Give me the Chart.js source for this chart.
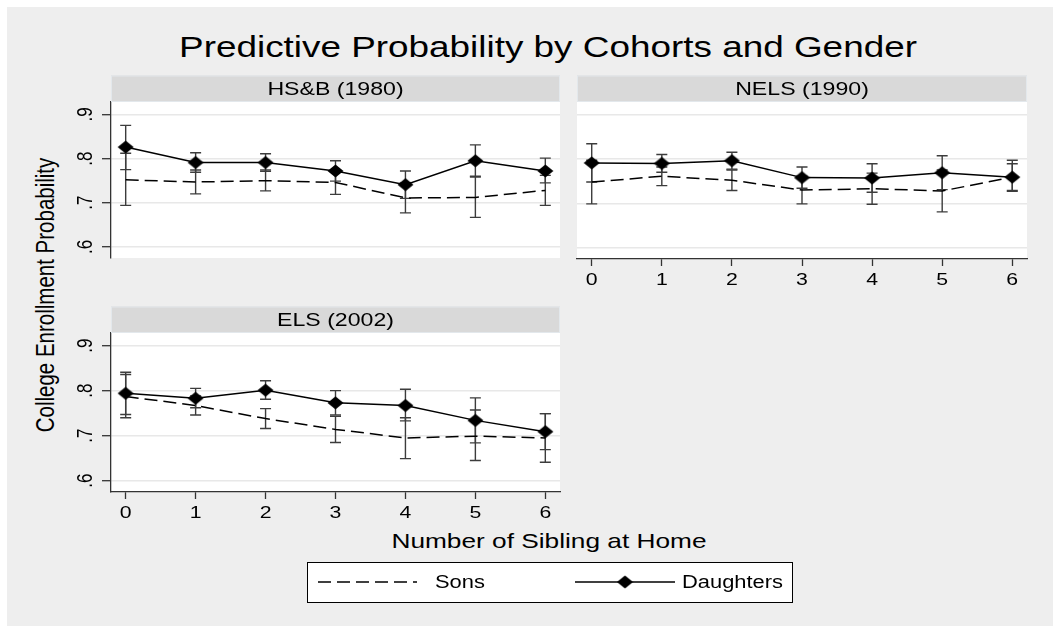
<!DOCTYPE html>
<html>
<head>
<meta charset="utf-8">
<title>Predictive Probability by Cohorts and Gender</title>
<script src="https://cdn.jsdelivr.net/npm/chart.js@4.4.0/dist/chart.umd.min.js"></script>
<style>
  html, body { margin: 0; padding: 0; background: #fff; }
  #page { position: relative; width: 1053px; height: 626px; overflow: hidden; }
  #bg { position: absolute; left: 7px; top: 7px; right: 0; bottom: 0; background: #eeeeee; }
  canvas { position: absolute; left: 0; top: 0; }
  /* text in this figure is drawn a little wide (x stretched 1.25) */
  .txt { position: absolute; font-family: "Liberation Sans", Arial, sans-serif; color: #000; white-space: nowrap;
         transform: translate(-50%, -50%) scaleX(1.25); }
  #title { left: 548px; top: 47px; font-size: 29.5px; }
  #ytitle { left: 45px; top: 295px; font-size: 20.5px; transform: translate(-50%, -50%) scaleX(1.25) rotate(-90deg); }
  #xtitle { left: 549px; top: 541px; font-size: 21px; }
</style>
</head>
<body>
<div id="page">
  <div id="bg"></div>
  <div class="txt" id="title">Predictive Probability by Cohorts and Gender</div>
  <div class="txt" id="ytitle">College Enrollment Probability</div>
  <div class="txt" id="xtitle">Number of Sibling at Home</div>
  <canvas id="hsb" width="1053" height="626"></canvas>
  <canvas id="nels" width="1053" height="626"></canvas>
  <canvas id="els" width="1053" height="626"></canvas>
</div>
<script>
const FONT = '"Liberation Sans", Arial, sans-serif';
const STRETCH = 1.25;
Chart.defaults.font.family = FONT;
Chart.defaults.color = '#000';

const siblings = [0, 1, 2, 3, 4, 5, 6];
const yTicks = [0.6, 0.7, 0.8, 0.9];
const yTickLabels = ['.6', '.7', '.8', '.9'];
const seriesNames = ['Sons', 'Daughters'];

// HS&B (1980)
const hsbSons        = [0.752, 0.747, 0.750, 0.746, 0.711, 0.712, 0.728];
const hsbSonsLo      = [0.694, 0.720, 0.727, 0.719, 0.677, 0.667, 0.694];
const hsbSonsHi      = [0.812, 0.774, 0.774, 0.773, 0.745, 0.758, 0.762];
const hsbDaughters   = [0.826, 0.791, 0.791, 0.772, 0.741, 0.795, 0.772];
const hsbDaughtersLo = [0.775, 0.769, 0.771, 0.749, 0.710, 0.760, 0.745];
const hsbDaughtersHi = [0.875, 0.813, 0.811, 0.795, 0.772, 0.831, 0.801];

// NELS (1990)
const nelsSons        = [0.748, 0.761, 0.752, 0.730, 0.733, 0.728, 0.759];
const nelsSonsLo      = [0.699, 0.740, 0.729, 0.699, 0.698, 0.681, 0.729];
const nelsSonsHi      = [0.797, 0.782, 0.775, 0.761, 0.768, 0.775, 0.789];
const nelsDaughters   = [0.791, 0.790, 0.796, 0.758, 0.757, 0.769, 0.759];
const nelsDaughtersLo = [0.748, 0.770, 0.777, 0.734, 0.725, 0.731, 0.727];
const nelsDaughtersHi = [0.834, 0.810, 0.815, 0.782, 0.789, 0.807, 0.797];

// ELS (2002)
const elsSons        = [0.787, 0.767, 0.738, 0.714, 0.695, 0.699, 0.695];
const elsSonsLo      = [0.740, 0.746, 0.716, 0.685, 0.649, 0.645, 0.641];
const elsSonsHi      = [0.841, 0.788, 0.760, 0.743, 0.740, 0.757, 0.749];
const elsDaughters   = [0.794, 0.783, 0.801, 0.773, 0.767, 0.734, 0.709];
const elsDaughtersLo = [0.747, 0.762, 0.781, 0.746, 0.733, 0.684, 0.669];
const elsDaughtersHi = [0.836, 0.805, 0.822, 0.800, 0.803, 0.784, 0.749];

const AXIS = '#333333';

// wide diamond marker, used as an image point style
const diamond = document.createElement('canvas');
diamond.width = 17;
diamond.height = 14;
(() => {
  const c = diamond.getContext('2d');
  c.fillStyle = '#000';
  c.beginPath();
  c.moveTo(8.5, 0.5);
  c.lineTo(16.5, 7);
  c.lineTo(8.5, 13.5);
  c.lineTo(0.5, 7);
  c.closePath();
  c.fill();
})();

function wideText(ctx, text, x, y, rotate) {
  ctx.save();
  ctx.translate(x, y);
  ctx.scale(STRETCH, 1);
  if (rotate) ctx.rotate(-Math.PI / 2);
  ctx.fillText(text, 0, 0);
  ctx.restore();
}

// white plot region
const plotBg = {
  id: 'plotBg',
  beforeDraw(chart) {
    const { ctx, chartArea: a } = chart;
    ctx.save();
    ctx.fillStyle = '#ffffff';
    ctx.fillRect(a.left, a.top, a.right - a.left, a.bottom - a.top);
    ctx.restore();
  }
};

// grey title strip above each panel
const strip = {
  id: 'strip',
  afterDraw(chart, args, opts) {
    const { ctx, chartArea: a } = chart;
    const h = 26.5;
    ctx.save();
    ctx.fillStyle = '#d9d9d9';
    ctx.fillRect(a.left, a.top - h, a.right - a.left, h);
    ctx.strokeStyle = '#e3e8ec';
    ctx.lineWidth = 1;
    ctx.strokeRect(a.left + 0.5, a.top - h + 0.5, a.right - a.left - 1, h - 1);
    ctx.fillStyle = '#000';
    ctx.font = '18.5px ' + FONT;
    ctx.textAlign = 'center';
    ctx.textBaseline = 'middle';
    wideText(ctx, opts.text, (a.left + a.right) / 2, a.top - h / 2 + 1);
    ctx.restore();
  }
};

// tick labels, placed from the scales' own ticks
const tickText = {
  id: 'tickText',
  afterDraw(chart) {
    const { ctx, scales: { x, y } } = chart;
    ctx.save();
    ctx.fillStyle = '#000';
    ctx.font = '17px ' + FONT;
    ctx.textAlign = 'center';
    ctx.textBaseline = 'middle';
    if (x.options.display) {
      x.ticks.forEach(t => wideText(ctx, t.label, x.getPixelForValue(t.value), x.top + 21));
    }
    if (y.options.grid.drawTicks) {
      y.ticks.forEach(t => wideText(ctx, t.label, y.right - 25, y.getPixelForValue(t.value), true));
    }
    ctx.restore();
  }
};

// confidence intervals with end caps
const errorBars = {
  id: 'errorBars',
  beforeDatasetsDraw(chart) {
    const { ctx, scales: { x, y } } = chart;
    ctx.save();
    ctx.strokeStyle = '#3c3c3c';
    ctx.lineWidth = 1.4;
    chart.data.datasets.forEach(ds => {
      ds.data.forEach((p, i) => {
        const px = x.getPixelForValue(p.x);
        const top = y.getPixelForValue(ds.hi[i]);
        const bot = y.getPixelForValue(ds.lo[i]);
        ctx.beginPath();
        ctx.moveTo(px, top); ctx.lineTo(px, bot);
        ctx.moveTo(px - 5.5, top); ctx.lineTo(px + 5.5, top);
        ctx.moveTo(px - 5.5, bot); ctx.lineTo(px + 5.5, bot);
        ctx.stroke();
      });
    });
    ctx.restore();
  }
};

// legend box under the x title
const legendBox = {
  id: 'legendBox',
  afterDraw(chart) {
    const { ctx } = chart;
    const [sons, daughters] = chart.data.datasets;
    const y = 582;
    ctx.save();
    ctx.fillStyle = '#fff';
    ctx.fillRect(307, 562, 485, 40);
    ctx.strokeStyle = '#000';
    ctx.lineWidth = 1;
    ctx.strokeRect(307.5, 562.5, 485, 40);

    ctx.lineWidth = sons.borderWidth;
    ctx.setLineDash(sons.borderDash);
    ctx.beginPath(); ctx.moveTo(318, y); ctx.lineTo(417, y); ctx.stroke();
    ctx.setLineDash([]);
    ctx.lineWidth = daughters.borderWidth;
    ctx.beginPath(); ctx.moveTo(575, y); ctx.lineTo(675, y); ctx.stroke();
    Chart.helpers.drawPoint(ctx, { pointStyle: daughters.pointStyle, radius: 7, borderWidth: 0 }, 625, y);

    ctx.fillStyle = '#000';
    ctx.font = '17.5px ' + FONT;
    ctx.textBaseline = 'middle';
    ctx.textAlign = 'left';
    wideText(ctx, sons.label, 435, y + 1);
    wideText(ctx, daughters.label, 682, y + 1);
    ctx.restore();
  }
};

function makePanel(id, cfg) {
  const pts = vals => siblings.map((x, i) => ({ x, y: vals[i] }));
  const extra = cfg.legend ? [legendBox] : [];
  return new Chart(document.getElementById(id), {
    type: 'line',
    data: {
      datasets: [
        {
          label: seriesNames[0], data: pts(cfg.sons), lo: cfg.sonsLo, hi: cfg.sonsHi,
          borderColor: '#000', borderWidth: 1.5, borderDash: [13, 6],
          pointRadius: 0, fill: false
        },
        {
          label: seriesNames[1], data: pts(cfg.daughters), lo: cfg.daughtersLo, hi: cfg.daughtersHi,
          borderColor: '#000', borderWidth: 1.5,
          pointStyle: diamond, pointRadius: 7, fill: false
        }
      ]
    },
    options: {
      responsive: false,
      animation: false,
      layout: { padding: cfg.padding },
      plugins: {
        legend: { display: false },
        tooltip: { enabled: false },
        strip: { text: cfg.name }
      },
      scales: {
        x: {
          type: 'linear', min: -0.21, max: 6.21,
          display: cfg.showX,
          afterBuildTicks: s => { s.ticks = siblings.map(v => ({ value: v })); },
          afterFit: s => { s.height = cfg.showX ? 36 : 0; },
          grid: { drawOnChartArea: false, tickLength: 7, tickColor: AXIS, tickWidth: 1.3 },
          border: { color: AXIS, width: 1.3 },
          ticks: { display: false, autoSkip: false }
        },
        y: {
          min: 0.575, max: 0.928,
          afterBuildTicks: s => { s.ticks = yTicks.map(v => ({ value: v })); },
          afterFit: s => { s.width = cfg.yWidth; },
          grid: {
            color: '#e8e8e8', lineWidth: 1.4, tickLength: 9,
            tickColor: AXIS, tickWidth: 1.3, drawTicks: cfg.showY
          },
          border: { display: cfg.showY, color: AXIS, width: 1.3 },
          ticks: { display: false, callback: (v, i) => yTickLabels[i] }
        }
      }
    },
    plugins: [plotBg, errorBars, strip, tickText].concat(extra)
  });
}

makePanel('hsb', {
  name: 'HS&B (1980)',
  sons: hsbSons, sonsLo: hsbSonsLo, sonsHi: hsbSonsHi,
  daughters: hsbDaughters, daughtersLo: hsbDaughtersLo, daughtersHi: hsbDaughtersHi,
  showX: false, showY: true, yWidth: 51,
  padding: { left: 60, right: 493, top: 102, bottom: 368 }
});

makePanel('nels', {
  name: 'NELS (1990)',
  sons: nelsSons, sonsLo: nelsSonsLo, sonsHi: nelsSonsHi,
  daughters: nelsDaughters, daughtersLo: nelsDaughtersLo, daughtersHi: nelsDaughtersHi,
  showX: true, showY: false, yWidth: 0,
  padding: { left: 577, right: 26, top: 102, bottom: 331 }
});

makePanel('els', {
  name: 'ELS (2002)',
  sons: elsSons, sonsLo: elsSonsLo, sonsHi: elsSonsHi,
  daughters: elsDaughters, daughtersLo: elsDaughtersLo, daughtersHi: elsDaughtersHi,
  showX: true, showY: true, yWidth: 51, legend: true,
  padding: { left: 60, right: 493, top: 333, bottom: 98 }
});
</script>
</body>
</html>
